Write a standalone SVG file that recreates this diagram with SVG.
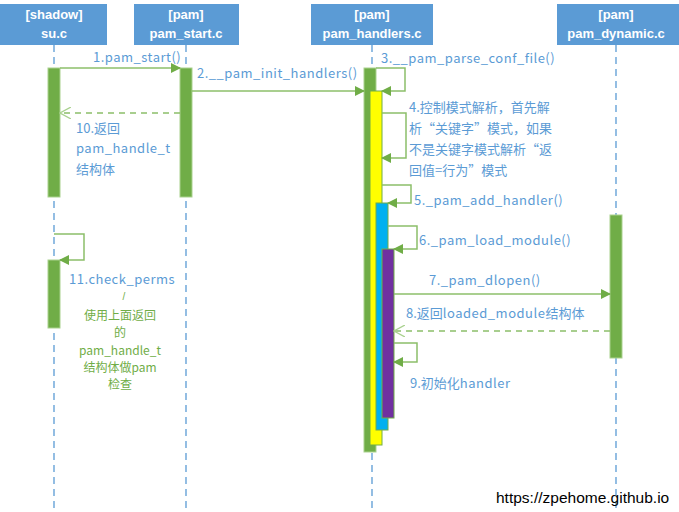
<svg xmlns="http://www.w3.org/2000/svg" width="679" height="512" viewBox="0 0 679 512">
<style>
.hdr{fill:#5B9BD5}
.ht{font-family:"Liberation Sans","Noto Sans CJK SC",sans-serif;font-weight:bold;font-size:13px;fill:#fff;text-anchor:middle}
.life{stroke:#5B9BD5;stroke-width:1.3;stroke-dasharray:7,5;fill:none}
.bar{fill:#70AD47;stroke:#A9D18E;stroke-width:1}
.msg{stroke:#8CBF6A;stroke-width:1.5;fill:none}
.ret{stroke:#8CBF6A;stroke-width:1.5;fill:none;stroke-dasharray:6,5}
.lb{font-family:"Noto Sans CJK SC",sans-serif;font-size:13px;fill:#5B9BD5}
.ls{letter-spacing:0.5px}
.lg{font-family:"Noto Sans CJK SC",sans-serif;font-size:12px;fill:#70AD47;text-anchor:middle}
</style>
<defs>
<marker id="fa" markerWidth="10" markerHeight="10" refX="9" refY="5" orient="auto" markerUnits="userSpaceOnUse"><path d="M0,0 L10,5 L0,10 Z" fill="#70AD47"/></marker>
<marker id="oa" markerWidth="12" markerHeight="12" refX="11" refY="6" orient="auto" markerUnits="userSpaceOnUse"><path d="M0,0 L11,6 L0,12" fill="none" stroke="#A9D18E" stroke-width="1.3"/></marker>
</defs>
<g id="lifelines">
<line class="life" x1="54" y1="45" x2="54" y2="512"/>
<line class="life" x1="186" y1="45" x2="186" y2="512"/>
<line class="life" x1="372" y1="45" x2="372" y2="512"/>
<line class="life" x1="616" y1="45" x2="616" y2="512"/>
</g>
<g id="n-su"><rect class="hdr" x="0" y="4" width="107" height="41"/><text class="ht" x="54" y="19">[shadow]</text><text class="ht" x="54" y="38">su.c</text></g>
<g id="n-start"><rect class="hdr" x="134" y="4" width="105" height="41"/><text class="ht" x="186" y="19">[pam]</text><text class="ht" x="186" y="38">pam_start.c</text></g>
<g id="n-handlers"><rect class="hdr" x="311" y="4" width="122" height="41"/><text class="ht" x="372" y="19">[pam]</text><text class="ht" x="372" y="38">pam_handlers.c</text></g>
<g id="n-dynamic"><rect class="hdr" x="557" y="4" width="122" height="41"/><text class="ht" x="616" y="19">[pam]</text><text class="ht" x="616" y="38">pam_dynamic.c</text></g>
<g id="activations">
<rect class="bar" x="48" y="68" width="12" height="129"/>
<rect class="bar" x="180" y="68" width="12" height="129"/>
<rect class="bar" x="48" y="260" width="12" height="68"/>
<rect class="bar" x="364" y="68" width="12" height="384"/>
<rect x="370" y="91" width="12" height="354" fill="#FFFF00" stroke="#70AD47" stroke-width="1"/>
<rect x="376" y="203" width="12" height="227" fill="#00B0F0" stroke="#70AD47" stroke-width="1"/>
<rect x="382" y="249" width="12" height="169" fill="#7030A0" stroke="#70AD47" stroke-width="1"/>
<rect class="bar" x="610" y="215" width="12" height="143"/>
</g>
<g id="connectors">
<line class="msg" x1="60" y1="68" x2="180" y2="68" marker-end="url(#fa)"/>
<line class="msg" x1="192" y1="91" x2="364" y2="91" marker-end="url(#fa)"/>
<polyline class="msg" points="376,68 405,68 405,91 382,91" marker-end="url(#fa)"/>
<polyline class="msg" points="382,113 406,113 406,158 382,158" marker-end="url(#fa)"/>
<polyline class="msg" points="382,185 411,185 411,203 388,203" marker-end="url(#fa)"/>
<polyline class="msg" points="388,226 417,226 417,249 394,249" marker-end="url(#fa)"/>
<line class="msg" x1="394" y1="294" x2="610" y2="294" marker-end="url(#fa)"/>
<line class="ret" x1="610" y1="331" x2="394" y2="331" marker-end="url(#oa)"/>
<polyline class="msg" points="394,343 417,343 417,362 394,362" marker-end="url(#fa)"/>
<line class="ret" x1="180" y1="113" x2="60" y2="113" marker-end="url(#oa)"/>
<polyline class="msg" points="54,234 84,234 84,260 60,260" marker-end="url(#fa)"/>
</g>
<g id="labels">
<text class="lb ls" x="93" y="62">1.pam_start()</text>
<text class="lb ls" x="197" y="78">2.__pam_init_handlers()</text>
<text class="lb ls" x="381" y="63">3.__pam_parse_conf_file()</text>
<text class="lb" x="409" y="112">4.控制模式解析，首先解</text>
<text class="lb" x="409" y="133">析“关键字”模式，如果</text>
<text class="lb" x="409" y="154">不是关键字模式解析“返</text>
<text class="lb" x="409" y="175">回值=行为”模式</text>
<text class="lb ls" x="414" y="205">5._pam_add_handler()</text>
<text class="lb ls" x="419" y="245">6._pam_load_module()</text>
<text class="lb ls" x="429" y="285">7._pam_dlopen()</text>
<text class="lb" x="406" y="318">8.返回<tspan class="ls">loaded_module</tspan>结构体</text>
<text class="lb" x="410" y="388">9.初始化<tspan class="ls">handler</tspan></text>
<text class="lb" x="76" y="133">10.返回</text>
<text class="lb ls" x="76" y="153">pam_handle_t</text>
<text class="lb" x="76" y="174">结构体</text>
<text class="lb ls" x="69" y="284">11.check_perms</text>
<text x="124" y="300" font-family="Liberation Sans, sans-serif" font-size="10" fill="#70AD47" text-anchor="middle">/</text>
<text class="lg" x="120" y="320">使用上面返回</text>
<text class="lg" x="120" y="337">的</text>
<text class="lg" x="120" y="355">pam_handle_t</text>
<text class="lg" x="120" y="372">结构体做pam</text>
<text class="lg" x="120" y="389">检查</text>
</g>
<text x="496" y="503" font-family="Liberation Sans, Arial, sans-serif" font-size="15.5" fill="#000">https://zpehome.github.io</text>
</svg>
